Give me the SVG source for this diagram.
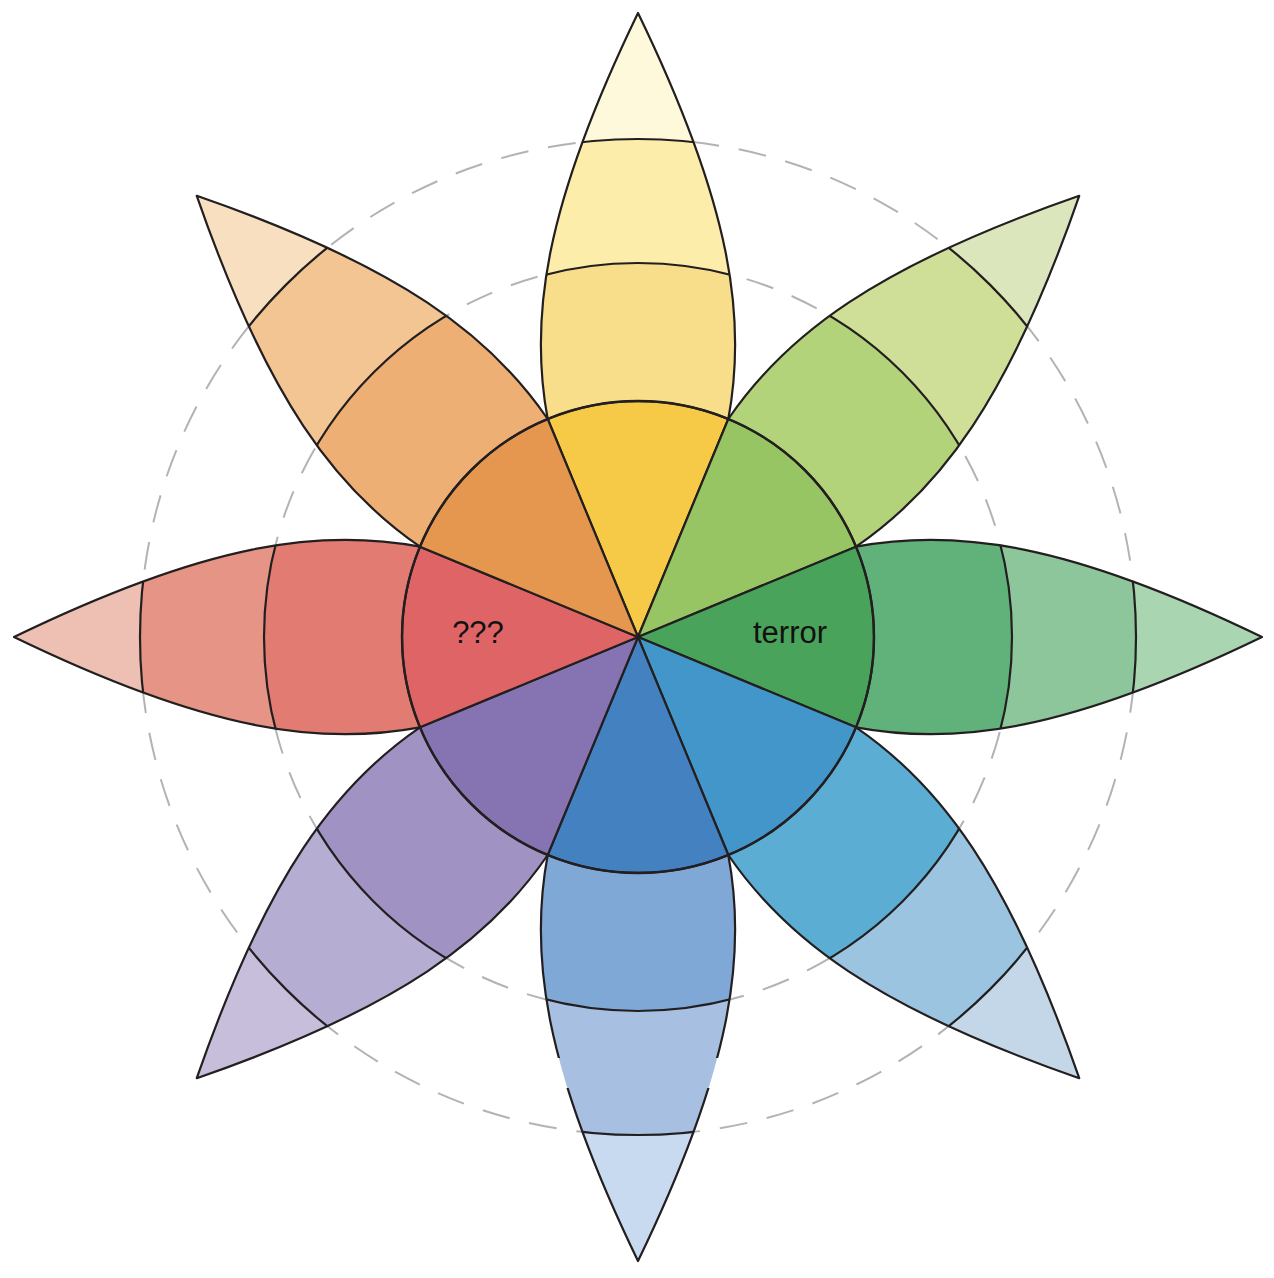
<svg xmlns="http://www.w3.org/2000/svg" xmlns:xlink="http://www.w3.org/1999/xlink" width="1274" height="1278" viewBox="0 0 1274 1278">
<style>
.guide{fill:none;stroke:#b3b3b3;stroke-width:2;stroke-dasharray:28 20}
.band{fill:none;stroke:#231f20;stroke-width:2.2}
.outline{fill:none;stroke:#231f20;stroke-width:2.2;stroke-linejoin:round}
.wedge{stroke:#231f20;stroke-width:2.2;stroke-linejoin:round}
.ring{fill:none;stroke:#231f20;stroke-width:2.4}
.label{font-family:"Liberation Sans",Arial,sans-serif;font-size:31px;fill:#111;text-anchor:middle}
</style>
<defs>
<clipPath id="petalClip"><path d="M0,0 L-90.3,-218 C-109,-318 -94,-430 0,-624 C94,-430 109,-318 90.3,-218 Z"/></clipPath>
<clipPath id="gapClip"><rect x="-200" y="-700" width="400" height="249"/><rect x="-200" y="-421" width="400" height="500"/></clipPath>
<path id="petalOutline" d="M-90.3,-218 C-109,-318 -94,-430 0,-624 C94,-430 109,-318 90.3,-218"/>
<path id="wedgeShape" d="M0,0 L-90.3,-218 A236,236 0 0 1 90.3,-218 Z"/>
</defs>
<rect width="1274" height="1278" fill="#ffffff"/>
<g id="guides">
<circle class="guide" cx="638" cy="637" r="498"/>
<circle class="guide" cx="638" cy="637" r="374"/>
</g>
<g id="petal-joy" transform="translate(638,637) rotate(0)">
<g clip-path="url(#petalClip)"><circle r="640" fill="#FEF9DB"/><circle r="498" fill="#FDEDAB"/><circle r="374" fill="#F8DE8A"/><circle class="band" r="498"/><circle class="band" r="374"/></g>
<use href="#petalOutline" class="outline"/>
</g>
<g id="petal-trust" transform="translate(638,637) rotate(45)">
<g clip-path="url(#petalClip)"><circle r="640" fill="#DBE6BD"/><circle r="498" fill="#D0DF98"/><circle r="374" fill="#B3D37A"/><circle class="band" r="498"/><circle class="band" r="374"/></g>
<use href="#petalOutline" class="outline"/>
</g>
<g id="petal-fear" transform="translate(638,637) rotate(90)">
<g clip-path="url(#petalClip)"><circle r="640" fill="#A9D5B0"/><circle r="498" fill="#8EC69B"/><circle r="374" fill="#60B27A"/><circle class="band" r="498"/><circle class="band" r="374"/></g>
<use href="#petalOutline" class="outline"/>
</g>
<g id="petal-surprise" transform="translate(638,637) rotate(135)">
<g clip-path="url(#petalClip)"><circle r="640" fill="#C4D7E8"/><circle r="498" fill="#9AC4E0"/><circle r="374" fill="#5BADD4"/><circle class="band" r="498"/><circle class="band" r="374"/></g>
<use href="#petalOutline" class="outline"/>
</g>
<g id="petal-sadness" transform="translate(638,637) rotate(180)">
<g clip-path="url(#petalClip)"><circle r="640" fill="#C8DAEF"/><circle r="498" fill="#A7BFE1"/><circle r="374" fill="#7FA8D7"/><circle class="band" r="498"/><circle class="band" r="374"/></g>
<g clip-path="url(#gapClip)"><use href="#petalOutline" class="outline"/></g>
</g>
<g id="petal-disgust" transform="translate(638,637) rotate(225)">
<g clip-path="url(#petalClip)"><circle r="640" fill="#C7BEDC"/><circle r="498" fill="#B5ADD2"/><circle r="374" fill="#A093C3"/><circle class="band" r="498"/><circle class="band" r="374"/></g>
<use href="#petalOutline" class="outline"/>
</g>
<g id="petal-anger" transform="translate(638,637) rotate(270)">
<g clip-path="url(#petalClip)"><circle r="640" fill="#EEBFB3"/><circle r="498" fill="#E59486"/><circle r="374" fill="#E27B72"/><circle class="band" r="498"/><circle class="band" r="374"/></g>
<use href="#petalOutline" class="outline"/>
</g>
<g id="petal-anticipation" transform="translate(638,637) rotate(315)">
<g clip-path="url(#petalClip)"><circle r="640" fill="#F8DFBF"/><circle r="498" fill="#F3C592"/><circle r="374" fill="#EEAF74"/><circle class="band" r="498"/><circle class="band" r="374"/></g>
<use href="#petalOutline" class="outline"/>
</g>
<g id="core" transform="translate(638,637)">
<use href="#wedgeShape" class="wedge" fill="#F6CA46" transform="rotate(0)"/>
<use href="#wedgeShape" class="wedge" fill="#98C563" transform="rotate(45)"/>
<use href="#wedgeShape" class="wedge" fill="#49A35A" transform="rotate(90)"/>
<use href="#wedgeShape" class="wedge" fill="#4396C9" transform="rotate(135)"/>
<use href="#wedgeShape" class="wedge" fill="#4481C1" transform="rotate(180)"/>
<use href="#wedgeShape" class="wedge" fill="#8574B1" transform="rotate(225)"/>
<use href="#wedgeShape" class="wedge" fill="#DF6465" transform="rotate(270)"/>
<use href="#wedgeShape" class="wedge" fill="#E6974F" transform="rotate(315)"/>
<circle class="ring" r="236"/>
</g>
<g id="labels">
<text class="label" x="478" y="643">???</text>
<text class="label" x="790" y="643">terror</text>
</g>
</svg>
